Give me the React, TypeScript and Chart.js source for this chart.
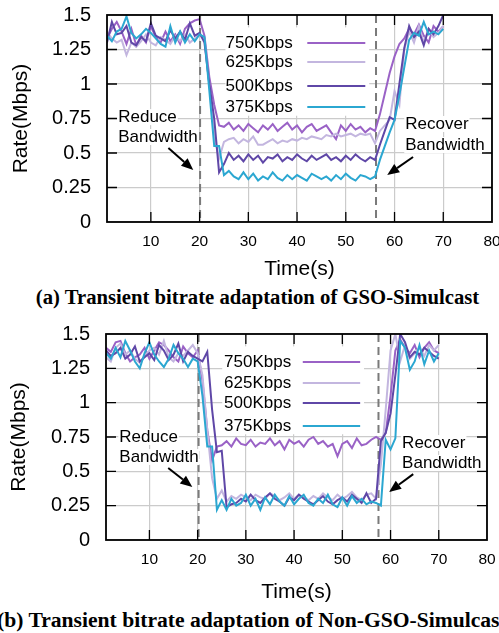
import React, { useEffect, useRef } from "react";
import { Chart, registerables } from "chart.js";

Chart.register(...registerables);

const FONT = '"Liberation Sans", Arial, Helvetica, sans-serif';

// ---------- data ----------
const time = [
  1, 2, 3, 4, 5, 6, 7, 8, 9, 10, 11, 12, 13, 14, 15, 16, 17, 18, 19, 20,
  21, 22, 23, 24, 25, 26, 27, 28, 29, 30, 31, 32, 33, 34, 35, 36, 37, 38, 39, 40,
  41, 42, 43, 44, 45, 46, 47, 48, 49, 50, 51, 52, 53, 54, 55, 56, 57, 58, 59, 60,
  61, 62, 63, 64, 65, 66, 67, 68, 69, 70,
];

const xTickValues = [10, 20, 30, 40, 50, 60, 70, 80];
const yTickValues = [0, 0.25, 0.5, 0.75, 1, 1.25, 1.5];
const seriesLabels = ["750Kbps", "625Kbps", "500Kbps", "375Kbps"];
const seriesColors = ["#9a62c6", "#c3b6df", "#5f47a7", "#2ba7d1"];

// (a) GSO-Simulcast
const gso750 = [
  1.33, 1.40, 1.45, 1.38, 1.29, 1.40, 1.28, 1.35, 1.30, 1.42,
  1.34, 1.30, 1.38, 1.31, 1.36, 1.29, 1.40, 1.44, 1.46, 1.47,
  1.35, 1.05, 0.85, 0.70, 0.69, 0.72, 0.67, 0.70, 0.66, 0.71,
  0.68, 0.65, 0.70, 0.67, 0.71, 0.66, 0.69, 0.72, 0.67, 0.70,
  0.65, 0.69, 0.71, 0.66, 0.68, 0.70, 0.65, 0.60, 0.70, 0.66,
  0.71, 0.67, 0.69, 0.65, 0.68, 0.66, 0.78, 0.93, 1.08, 1.20,
  1.29, 1.33, 1.40, 1.36, 1.43, 1.35, 1.30, 1.42, 1.38, 1.42,
];
const gso625 = [
  1.38, 1.33, 1.30, 1.32, 1.21, 1.30, 1.27, 1.31, 1.36, 1.30,
  1.28, 1.34, 1.32, 1.29, 1.35, 1.31, 1.36, 1.30, 1.33, 1.36,
  1.32, 1.00, 0.62, 0.46, 0.58, 0.60, 0.61, 0.57, 0.60, 0.58,
  0.62, 0.56, 0.56, 0.58, 0.60, 0.57, 0.59, 0.58, 0.60, 0.59,
  0.61, 0.60, 0.62, 0.61, 0.60, 0.63, 0.62, 0.64, 0.62, 0.63,
  0.64, 0.62, 0.64, 0.63, 0.64, 0.57, 0.66, 0.70, 0.74, 0.95,
  0.85, 1.25, 1.38, 1.30, 1.42, 1.30, 1.40, 1.34, 1.37, 1.42,
];
const gso500 = [
  1.30, 1.45, 1.36, 1.37, 1.42, 1.30, 1.28, 1.34, 1.31, 1.44,
  1.35, 1.33, 1.31, 1.39, 1.33, 1.38, 1.32, 1.44, 1.35, 1.37,
  1.30, 1.00, 0.75, 0.36, 0.42, 0.50, 0.45, 0.48, 0.44, 0.49,
  0.45, 0.48, 0.43, 0.47, 0.46, 0.49, 0.44, 0.47, 0.45, 0.49,
  0.46, 0.44, 0.48, 0.45, 0.47, 0.49, 0.45, 0.47, 0.44, 0.48,
  0.45, 0.49, 0.46, 0.44, 0.47, 0.45, 0.56, 0.66, 0.76, 0.74,
  1.00, 1.26, 1.42, 1.34, 1.38, 1.28, 1.40, 1.36, 1.42, 1.50,
];
const gso375 = [
  1.35, 1.31, 1.38, 1.40, 1.49, 1.37, 1.33, 1.36, 1.40, 1.37,
  1.33, 1.29, 1.27, 1.42, 1.30, 1.38, 1.30, 1.36, 1.31, 1.36,
  1.34, 0.95, 0.55, 0.55, 0.34, 0.37, 0.33, 0.31, 0.36, 0.31,
  0.35, 0.30, 0.33, 0.31, 0.36, 0.32, 0.30, 0.34, 0.31, 0.34,
  0.32, 0.30, 0.35, 0.33, 0.31, 0.33, 0.30, 0.34, 0.31, 0.35,
  0.32, 0.30, 0.34, 0.33, 0.31, 0.33, 0.45, 0.55, 0.65, 0.74,
  0.92, 1.12, 1.32, 1.37, 1.35, 1.45, 1.36, 1.38, 1.36, 1.40,
];

// (b) Non-GSO-Simulcast
const non750 = [
  1.40, 1.37, 1.44, 1.45, 1.36, 1.30, 1.33, 1.35, 1.40, 1.32,
  1.38, 1.44, 1.42, 1.38, 1.33, 1.30, 1.41, 1.36, 1.33, 1.38,
  1.16, 0.80, 0.58, 0.68, 0.69, 0.72, 0.68, 0.74, 0.70, 0.69,
  0.73, 0.68, 0.71, 0.70, 0.74, 0.69, 0.72, 0.66, 0.73, 0.70,
  0.72, 0.68, 0.73, 0.75, 0.70, 0.72, 0.68, 0.70, 0.61, 0.70,
  0.72, 0.67, 0.74, 0.69, 0.70, 0.73, 0.75, 0.73, 0.78, 1.05,
  1.38, 1.46, 1.40, 1.36, 1.42, 1.33, 1.40, 1.44, 1.38, 1.36,
];
const non625 = [
  1.33, 1.30, 1.40, 1.43, 1.35, 1.38, 1.32, 1.29, 1.34, 1.38,
  1.40, 1.35, 1.45, 1.33, 1.30, 1.36, 1.34, 1.38, 1.42, 1.36,
  1.20, 0.80, 0.45, 0.30, 0.36, 0.28, 0.32, 0.30, 0.33, 0.31,
  0.29, 0.33, 0.31, 0.30, 0.34, 0.32, 0.29, 0.31, 0.34, 0.30,
  0.33, 0.31, 0.29, 0.32, 0.30, 0.34, 0.31, 0.29, 0.33, 0.30,
  0.32, 0.35, 0.31, 0.29, 0.33, 0.34, 0.30, 0.55, 0.95, 1.38,
  1.50, 1.30, 1.42, 1.32, 1.36, 1.40, 1.34, 1.42, 1.38, 1.42,
];
const non500 = [
  1.38, 1.34, 1.36, 1.40, 1.32, 1.35, 1.41, 1.30, 1.33, 1.36,
  1.31, 1.42, 1.38, 1.31, 1.35, 1.43, 1.30, 1.37, 1.34, 1.32,
  1.30, 1.37, 0.95, 0.64, 0.65, 0.24, 0.26, 0.27, 0.30, 0.28,
  0.33, 0.29, 0.27, 0.31, 0.34, 0.30, 0.28, 0.25, 0.31, 0.29,
  0.33, 0.30, 0.28, 0.26, 0.29, 0.32, 0.28, 0.26, 0.29, 0.31,
  0.28, 0.33, 0.30, 0.27, 0.34, 0.27, 0.30, 0.72, 0.78, 0.92,
  1.20, 1.50, 1.44, 1.33, 1.37, 1.35, 1.40, 1.37, 1.34, 1.32,
];
const non375 = [
  1.36, 1.32, 1.40, 1.33, 1.45, 1.38, 1.30, 1.25, 1.36, 1.44,
  1.35, 1.30, 1.26, 1.32, 1.42, 1.36, 1.32, 1.26, 1.32, 1.30,
  1.05, 0.68, 0.68, 0.22, 0.29, 0.22, 0.30, 0.25, 0.27, 0.33,
  0.25, 0.30, 0.22, 0.31, 0.26, 0.33, 0.28, 0.25, 0.32, 0.26,
  0.30, 0.33, 0.27, 0.25, 0.30, 0.27, 0.33, 0.26, 0.24, 0.31,
  0.25, 0.32, 0.27, 0.30, 0.26, 0.28, 0.27, 0.25, 0.73, 0.66,
  0.74, 1.45, 1.40, 1.24, 1.30, 1.42, 1.28, 1.38, 1.30, 1.36,
];

const gsoEvents = [20.1, 56.2];
const nonEvents = [20.2, 57.5];

const captionA = "(a) Transient bitrate adaptation of GSO-Simulcast";
const captionB = "(b) Transient bitrate adaptation of Non-GSO-Simulcast";

// ---------- layout ----------
type Spec = {
  top: number; height: number; padTop: number; padRight: number;
  yAxisWidth: number; xAxisHeight: number; xTickPad: number; xTitlePad: number; yTitlePad: number;
  series: number[][]; events: number[];
  legend: { textX: number; lineX: [number, number]; rows: number[]; box: [number, number, number, number] };
  reduce: { x: number; rows: [number, number]; arrow: [number, number, number, number] };
  recover: { x: number; rows: [number, number]; arrow: [number, number, number, number] };
};

const panelA: Spec = {
  top: 0, height: 285, padTop: 15, padRight: 7, yAxisWidth: 107, xAxisHeight: 63,
  xTickPad: 10, xTitlePad: 3, yTitlePad: 9,
  series: [gso750, gso625, gso500, gso375], events: gsoEvents,
  legend: { textX: 39.1, lineX: [42.1, 54], rows: [1.297, 1.159, 0.986, 0.833], box: [25.3, 54.8, 0.77, 1.41] },
  reduce: { x: 3.3, rows: [0.76, 0.616], arrow: [13.6, 0.536, 18.7, 0.377] },
  recover: { x: 62.2, rows: [0.71, 0.558], arrow: [63.8, 0.471, 58.5, 0.341] },
};

const panelB: Spec = {
  top: 319, height: 289, padTop: 15, padRight: 12, yAxisWidth: 106, xAxisHeight: 68,
  xTickPad: 10, xTitlePad: 3, yTitlePad: 7,
  series: [non750, non625, non500, non375], events: nonEvents,
  legend: { textX: 39.4, lineX: [41.8, 53.7], rows: [1.296, 1.143, 0.998, 0.83], box: [25.1, 54.5, 0.77, 1.41] },
  reduce: { x: 3.76, rows: [0.75, 0.604], arrow: [13.9, 0.524, 18.9, 0.386] },
  recover: { x: 62.4, rows: [0.706, 0.561], arrow: [64.7, 0.48, 59.7, 0.35] },
};

function drawArrow(ctx: CanvasRenderingContext2D, x1: number, y1: number, x2: number, y2: number) {
  const ang = Math.atan2(y2 - y1, x2 - x1);
  const hl = 12, hw = 5;
  const bx = x2 - hl * Math.cos(ang), by = y2 - hl * Math.sin(ang);
  ctx.strokeStyle = "#000";
  ctx.fillStyle = "#000";
  ctx.lineWidth = 2;
  ctx.beginPath();
  ctx.moveTo(x1, y1);
  ctx.lineTo(bx, by);
  ctx.stroke();
  ctx.beginPath();
  ctx.moveTo(x2, y2);
  ctx.lineTo(bx + hw * Math.sin(ang), by - hw * Math.cos(ang));
  ctx.lineTo(bx - hw * Math.sin(ang), by + hw * Math.cos(ang));
  ctx.closePath();
  ctx.fill();
}

function decoPlugin(p: Spec) {
  return {
    id: "deco",
    beforeDatasetsDraw(chart: any) {
      const { ctx, chartArea: a, scales } = chart;
      const px = (v: number) => scales.x.getPixelForValue(v);
      const py = (v: number) => scales.y.getPixelForValue(v);
      ctx.save();
      // legend box (opaque)
      const [bx0, bx1, by0, by1] = p.legend.box;
      ctx.fillStyle = "#fff";
      ctx.fillRect(px(bx0), py(by1), px(bx1) - px(bx0), py(by0) - py(by1));
      ctx.font = `17px ${FONT}`;
      ctx.textBaseline = "middle";
      seriesLabels.forEach((lab, i) => {
        const yy = py(p.legend.rows[i]);
        ctx.fillStyle = "#000";
        ctx.textAlign = "right";
        ctx.fillText(lab, px(p.legend.textX), yy);
        ctx.strokeStyle = seriesColors[i];
        ctx.lineWidth = 2;
        ctx.beginPath();
        ctx.moveTo(px(p.legend.lineX[0]), yy);
        ctx.lineTo(px(p.legend.lineX[1]), yy);
        ctx.stroke();
      });
      // event lines
      ctx.setLineDash([8, 5]);
      ctx.strokeStyle = "#7a7a7a";
      ctx.lineWidth = 2;
      p.events.forEach((ev) => {
        ctx.beginPath();
        ctx.moveTo(px(ev), a.top);
        ctx.lineTo(px(ev), a.bottom);
        ctx.stroke();
      });
      ctx.setLineDash([]);
      // annotation texts
      const words: [string, string][] = [["Reduce", "Bandwidth"], ["Recover", "Bandwidth"]];
      [p.reduce, p.recover].forEach((ann, k) => {
        ctx.font = `17px ${FONT}`;
        ctx.textAlign = "left";
        ctx.textBaseline = "middle";
        words[k].forEach((w, j) => {
          const x0 = px(ann.x), y0 = py(ann.rows[j]);
          const wd = ctx.measureText(w).width;
          ctx.fillStyle = "#fff";
          ctx.fillRect(x0 - 1, y0 - 8, wd + 2, 16);
          ctx.fillStyle = "#000";
          ctx.fillText(w, x0, y0);
        });
        const [ax1, ay1, ax2, ay2] = ann.arrow;
        drawArrow(ctx, px(ax1), py(ay1), px(ax2), py(ay2));
      });
      ctx.restore();
    },
    afterDatasetsDraw(chart: any) {
      const { ctx, chartArea: a, scales } = chart;
      const px = (v: number) => scales.x.getPixelForValue(v);
      const py = (v: number) => scales.y.getPixelForValue(v);
      ctx.save();
      ctx.strokeStyle = "#000";
      ctx.lineWidth = 1.3;
      const tl = 10;
      ctx.beginPath();
      yTickValues.forEach((v) => {
        if (v <= 0 || v >= 1.5) return;
        const y = py(v);
        ctx.moveTo(a.left, y); ctx.lineTo(a.left + tl, y);
        ctx.moveTo(a.right, y); ctx.lineTo(a.right - tl, y);
      });
      xTickValues.forEach((v) => {
        if (v >= 80) return;
        const x = px(v);
        ctx.moveTo(x, a.bottom); ctx.lineTo(x, a.bottom - tl);
        ctx.moveTo(x, a.top); ctx.lineTo(x, a.top + tl);
      });
      ctx.stroke();
      ctx.lineWidth = 1.8;
      ctx.strokeRect(a.left, a.top, a.right - a.left, a.bottom - a.top);
      ctx.restore();
    },
  };
}

function makeConfig(p: Spec): any {
  return {
    type: "line",
    data: {
      datasets: p.series.map((vals, i) => ({
        label: seriesLabels[i],
        data: time.map((t, k) => ({ x: t, y: vals[k] })),
        borderColor: seriesColors[i],
        backgroundColor: seriesColors[i],
        borderWidth: 2,
        pointRadius: 0,
        tension: 0,
        fill: false,
        order: 3 - i,
      })),
    },
    options: {
      animation: false,
      responsive: false,
      maintainAspectRatio: false,
      events: [],
      layout: { padding: { top: p.padTop, right: p.padRight, left: 0, bottom: 0 } },
      plugins: { legend: { display: false }, tooltip: { enabled: false } },
      scales: {
        x: {
          type: "linear",
          min: 1,
          max: 80,
          afterBuildTicks: (s: any) => { s.ticks = xTickValues.map((v) => ({ value: v })); },
          afterFit: (s: any) => { s.height = p.xAxisHeight; s.paddingLeft = 0; s.paddingRight = 0; },
          grid: { color: "#cbcbcb", lineWidth: 1.2, drawTicks: false },
          border: { display: false },
          ticks: {
            color: "#000", font: { family: FONT, size: 15.5 }, padding: p.xTickPad,
            maxRotation: 0, autoSkip: false, callback: (v: any) => String(v),
          },
          title: {
            display: true, text: "Time(s)", color: "#000",
            font: { family: FONT, size: 21 }, padding: { top: 0, bottom: p.xTitlePad },
          },
        },
        y: {
          min: 0,
          max: 1.5,
          afterBuildTicks: (s: any) => { s.ticks = yTickValues.map((v) => ({ value: v })); },
          afterFit: (s: any) => { s.width = p.yAxisWidth; s.paddingTop = 0; s.paddingBottom = 0; },
          grid: { color: "#cbcbcb", lineWidth: 1.2, drawTicks: false },
          border: { display: false },
          ticks: {
            color: "#000", font: { family: FONT, size: 20 }, padding: 16,
            autoSkip: false, callback: (v: any) => String(v),
          },
          title: {
            display: true, text: "Rate(Mbps)", color: "#000",
            font: { family: FONT, size: 21 }, padding: { top: p.yTitlePad, bottom: 0 },
          },
        },
      },
    },
    plugins: [decoPlugin(p)],
  };
}

function Panel({ spec }: { spec: Spec }) {
  const ref = useRef<HTMLCanvasElement | null>(null);
  useEffect(() => {
    if (!ref.current) return;
    const chart = new Chart(ref.current, makeConfig(spec));
    return () => chart.destroy();
  }, [spec]);
  return (
    <canvas
      ref={ref}
      width={499}
      height={spec.height}
      style={{ position: "absolute", left: 0, top: spec.top, width: 499, height: spec.height }}
    />
  );
}

const captionStyle: React.CSSProperties = {
  position: "absolute",
  whiteSpace: "nowrap",
  fontFamily: '"Liberation Serif", "Times New Roman", serif',
  fontWeight: "bold",
  lineHeight: "22px",
  height: 22,
  color: "#000",
};

export default function App() {
  return (
    <div style={{ position: "absolute", left: 0, top: 0, width: 499, height: 633, background: "#fff", overflow: "hidden" }}>
      <Panel spec={panelA} />
      <div style={{ ...captionStyle, fontSize: 20.7, top: 286, left: 257.5, transform: "translateX(-50%)" }}>{captionA}</div>
      <Panel spec={panelB} />
      <div style={{ ...captionStyle, fontSize: 21.6, top: 609, left: -3 }}>{captionB}</div>
    </div>
  );
}
